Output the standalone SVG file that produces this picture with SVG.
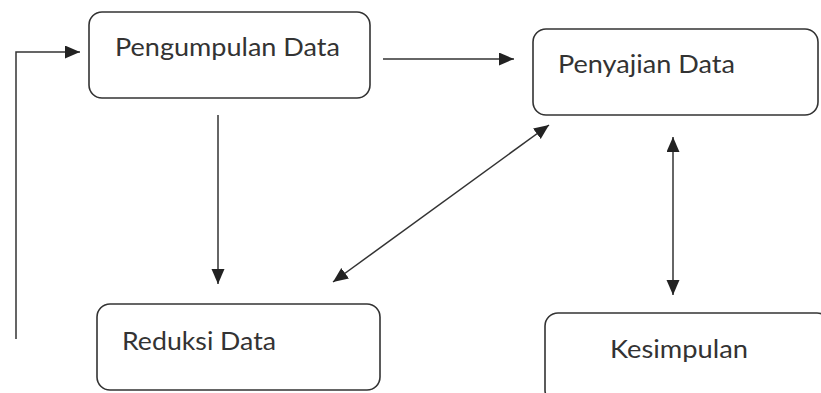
<svg xmlns="http://www.w3.org/2000/svg" width="821" height="393" viewBox="0 0 821 393">
<defs>
<marker id="ah" markerUnits="userSpaceOnUse" markerWidth="16" markerHeight="14" refX="15" refY="6.5" orient="auto-start-reverse">
<path d="M0,0 L15,6.5 L0,13 Z" fill="#222"/>
</marker>
</defs>
<style>
.box{fill:#fff;stroke:#333;stroke-width:1.6}
.lbl{font-family:Lato,"Open Sans","DejaVu Sans",sans-serif;font-size:25px;fill:#333}
.ln{stroke:#333;stroke-width:1.5;fill:none}
</style>
<rect width="821" height="393" fill="#fff"/>
<g id="n1"><rect class="box" x="89" y="12" width="281" height="86" rx="13"/><text class="lbl" x="115" y="56" textLength="225" lengthAdjust="spacingAndGlyphs">Pengumpulan Data</text></g>
<g id="n2"><rect class="box" x="533" y="29" width="285" height="86" rx="13"/><text class="lbl" x="558" y="73" textLength="177" lengthAdjust="spacingAndGlyphs">Penyajian Data</text></g>
<g id="n3"><rect class="box" x="97" y="304" width="283" height="86" rx="13"/><text class="lbl" x="122" y="350" textLength="154" lengthAdjust="spacingAndGlyphs">Reduksi Data</text></g>
<g id="n4"><rect class="box" x="545" y="313" width="285" height="90" rx="13"/><text class="lbl" x="610" y="358" textLength="138" lengthAdjust="spacingAndGlyphs">Kesimpulan</text></g>
<g id="edges">
<path class="ln" d="M16,339 V52 H80" marker-end="url(#ah)"/>
<path class="ln" d="M383,59 H514" marker-end="url(#ah)"/>
<path class="ln" d="M218,115 V284" marker-end="url(#ah)"/>
<path class="ln" d="M333,282 L549,125" marker-start="url(#ah)" marker-end="url(#ah)"/>
<path class="ln" d="M673,137 V295" marker-start="url(#ah)" marker-end="url(#ah)"/>
</g>
</svg>
